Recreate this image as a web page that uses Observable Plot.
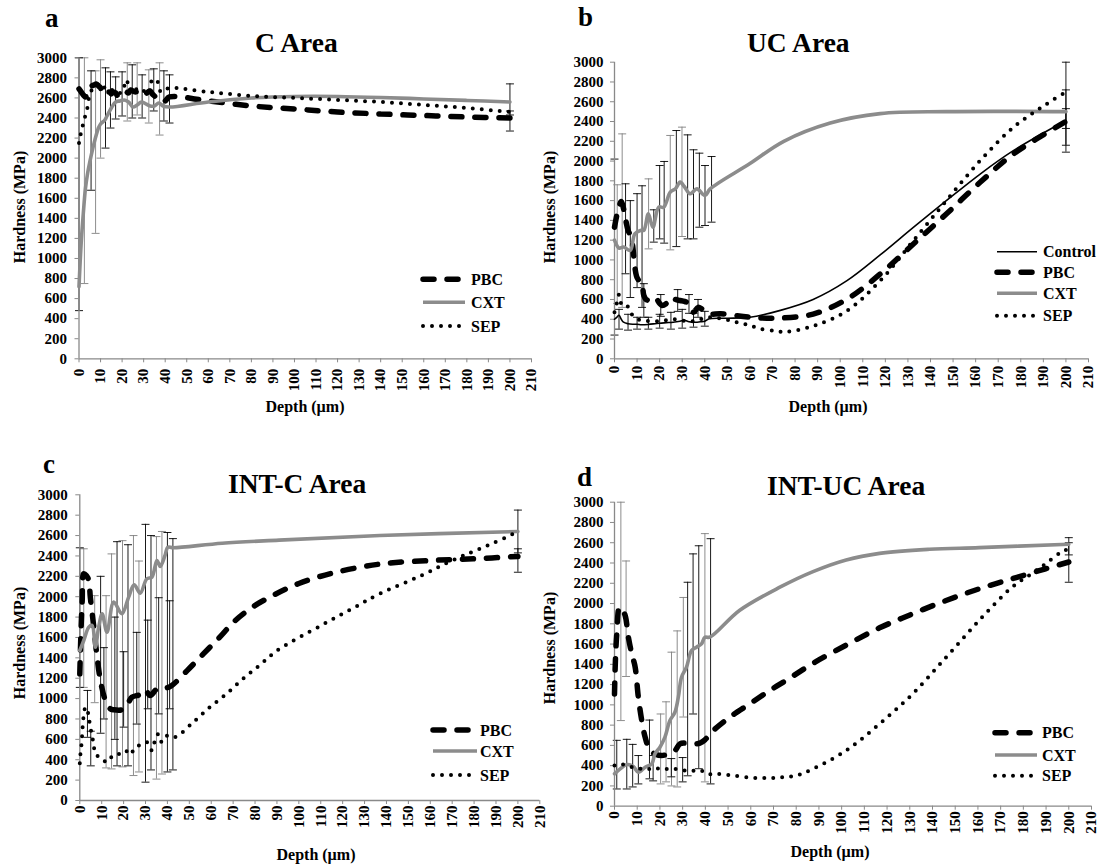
<!DOCTYPE html>
<html><head><meta charset="utf-8">
<script src="https://cdn.jsdelivr.net/npm/d3@7"></script>
<script src="https://cdn.jsdelivr.net/npm/@observablehq/plot@0.6"></script>
<style>
body{margin:0;background:#fff;}
#root{position:relative;width:1106px;height:864px;overflow:hidden;background:#fff;font-family:"Liberation Serif","DejaVu Serif","Times New Roman",serif;}
.panel{position:absolute;}
#overlay{position:absolute;left:0;top:0;pointer-events:none;}
svg text{font-family:"Liberation Serif","DejaVu Serif","Times New Roman",serif !important;}
</style></head>
<body><div id="root"></div>
<script>
// ---------- tick labels ----------
const depthTicks = [0,10,20,30,40,50,60,70,80,90,100,110,120,130,140,150,160,170,180,190,200,210];
const hardTicks = [0,200,400,600,800,1000,1200,1400,1600,1800,2000,2200,2400,2600,2800,3000];

// ---------- panel a : C Area ----------
const aPBC = [[0,2690],[1,2660],[2,2630],[3,2610],[4,2620],[5,2680],[6,2720],[7,2730],[8,2740],[9,2720],[10,2700],[11,2650],[12,2630],[13,2650],[14,2660],[15,2640],[16,2660],[17,2650],[18,2620],[19,2650],[20,2660],[21,2670],[22,2660],[23,2650],[24,2680],[25,2670],[26,2660],[27,2660],[28,2640],[29,2660],[30,2650],[31,2640],[32,2660],[33,2670],[34,2640],[35,2620],[36,2600],[37,2590],[38,2580],[39,2560],[40,2570],[42,2610],[60,2570],[80,2520],[100,2490],[120,2460],[140,2440],[160,2425],[180,2410],[200,2400]];
const aCXT = [[0,720],[1,1150],[2,1450],[3,1700],[4,1850],[5,1960],[6,2060],[7,2150],[8,2230],[9,2300],[10,2340],[12,2380],[13,2420],[15,2500],[17,2560],[19,2570],[21,2580],[23,2560],[25,2510],[27,2530],[29,2560],[31,2540],[33,2520],[35,2520],[37,2550],[39,2520],[42,2510],[60,2560],[80,2600],[100,2615],[120,2615],[140,2605],[160,2590],[180,2575],[200,2560]];
const aSEP = [[0,2150],[0.8,2240],[1.8,2330],[2.9,2420],[4,2510],[4.8,2620],[6,2680],[8,2720],[10,2750],[12,2700],[14,2670],[16,2680],[18,2650],[20,2660],[22,2780],[24,2650],[26,2680],[28,2700],[30,2670],[32,2640],[34,2780],[36,2780],[38,2660],[40,2680],[42,2700],[60,2660],[80,2620],[100,2600],[120,2580],[140,2560],[160,2530],[180,2500],[200,2460]];
const aErr = [[0,480,3000,"k"],[2.5,750,3000,"g"],[5.6,1680,2870,"k"],[7.7,1250,2870,"g"],[10,2000,2980,"g"],[12.3,2100,2900,"k"],[14.6,2300,2860,"k"],[17,2390,2810,"k"],[20,2420,2860,"k"],[22.4,2370,2950,"g"],[24.7,2400,2930,"k"],[27,2430,2950,"g"],[29.3,2400,2830,"k"],[32.4,2350,2880,"g"],[34.7,2470,2890,"k"],[37.4,2230,2950,"g"],[39.4,2370,2870,"k"],[42,2350,2830,"k"],[200,2270,2470,"k"],[200,2430,2740,"k"]];

// ---------- panel b : UC Area ----------
const bControl = [[0,400],[1,420],[2,440],[3,400],[4,370],[6,355],[8,350],[10,350],[12,345],[15,348],[18,355],[20,360],[23,365],[26,370],[29,380],[31,390],[33,375],[36,370],[38,375],[40,380],[42,405],[50,410],[60,420],[73.5,490],[88,600],[103,790],[117.7,1050],[132.4,1329],[147,1599],[162,1869],[176.7,2105],[200,2410]];
const bPBC = [[0,1330],[1,1450],[2,1540],[3,1590],[4,1520],[5,1400],[6,1300],[7,1250],[8,1150],[9,930],[10,820],[11,790],[12,780],[13,640],[14,600],[16,590],[18,620],[20,560],[21,540],[23,560],[25,620],[27,600],[29,590],[31,580],[33,560],[35,470],[37,520],[39,500],[42,455],[47,455],[60,421],[72,411],[88,452],[103,604],[117.7,857],[132.4,1161],[147,1465],[162,1785],[176.7,2072],[200,2400]];
const bCXT = [[0,1200],[2,1120],[4,1130],[7,1096],[9,1264],[11.5,1298],[13,1300],[15,1466],[17,1331],[19.6,1534],[21.8,1534],[24.7,1686],[27,1720],[29.1,1787],[31,1740],[33.5,1669],[36.5,1719],[40.1,1652],[42.4,1719],[60,1975],[75,2200],[95.6,2385],[117.7,2480],[147,2500],[200,2500]];
const bSEP = [[0,470],[1,560],[2,650],[3,560],[5,560],[7,470],[10,400],[13,390],[16,380],[20,380],[23,390],[26,400],[29,390],[32,380],[35,380],[38,400],[42,420],[51,388],[55.6,361],[60,337],[64.4,303],[71.8,280],[76,272],[88.3,334],[103,486],[117.7,789],[132.4,1194],[147,1599],[162,2004],[176.7,2341],[191.5,2578],[200,2700]];
const bErr = [[0,240,2020,"k"],[1.2,560,1760,"g"],[3.4,520,2275,"g"],[4.9,860,1770,"k"],[7,620,1600,"k"],[10,720,1670,"k"],[12.2,520,1750,"k"],[15.1,1112,1820,"g"],[17.4,1180,1507,"k"],[20,1213,1955,"k"],[22,1170,1996,"k"],[24.7,1102,2259,"g"],[27.4,1135,2309,"k"],[29.9,1237,2343,"g"],[32.4,1213,2265,"k"],[35,1213,2114,"k"],[37.6,1331,2080,"k"],[40.1,1348,1955,"k"],[43,1382,2046,"k"],[2,300,500,"k"],[6,290,450,"k"],[10,300,420,"k"],[15,300,420,"k"],[20,310,450,"k"],[25,300,470,"k"],[30,310,500,"k"],[35,320,460,"k"],[40,330,480,"k"],[13,420,760,"k"],[20.5,430,650,"k"],[28,480,700,"k"],[33,460,650,"k"],[37,420,600,"k"],[200,2090,2720,"k"],[200,2330,3000,"k"],[200,2160,2530,"k"]];

// ---------- panel c : INT-C Area ----------
const cPBC = [[0,1243],[0.6,1700],[1.1,1963],[1.8,2225],[3,2208],[4.1,2159],[4.8,1996],[6.4,1701],[7.9,1407],[9.4,1178],[11.7,981],[13.9,900],[15.5,890],[19.2,890],[21.5,932],[23.8,1014],[27.6,1040],[29.8,1086],[32.1,1031],[35.2,1096],[37.4,1112],[39.7,1106],[42,1129],[49,1275],[56.4,1439],[63.9,1603],[70.4,1755],[79,1900],[88,2010],[100,2130],[116,2235],[137,2320],[160,2355],[180,2372],[200,2395]];
const cCXT = [[0,1472],[1.8,1570],[4.1,1701],[5.6,1718],[7.1,1505],[8.6,1701],[10.2,1832],[12.4,1652],[15.5,1947],[19.2,1832],[22.3,1996],[24.8,2117],[27.6,2035],[30.6,2176],[32.9,2192],[35.2,2355],[36.7,2297],[38.9,2405],[40.2,2486],[42.7,2480],[65,2525],[91,2555],[137,2600],[200,2640]];
const cSEP = [[0,366],[0.3,458],[0.8,556],[1.1,654],[1.4,752],[1.8,834],[2.6,916],[3.3,900],[4.1,818],[4.8,720],[5.6,638],[6.4,540],[7.1,451],[9.4,425],[12.4,376],[15.5,451],[18.5,458],[20.8,491],[23,451],[25.3,523],[28.3,550],[30.6,573],[32.9,491],[34.4,595],[35.9,654],[37.4,573],[40,638],[43.5,622],[51.8,769],[59.4,916],[67,1047],[74.5,1194],[82,1325],[90,1470],[110,1716],[125,1890],[137,2030],[155.7,2206],[168,2336],[178.5,2434],[187.7,2516],[197.6,2614],[200,2650]];
const cErr = [[0,1110,2480,"k"],[1.8,1110,2470,"g"],[3.5,620,1080,"k"],[5,340,680,"k"],[6.8,960,2010,"g"],[9.5,660,2200,"k"],[12,320,2010,"g"],[14.5,310,2420,"g"],[17,340,2540,"k"],[19.5,330,2550,"g"],[22,340,2510,"k"],[24.5,245,2600,"g"],[27,280,2350,"g"],[30,180,2710,"k"],[32.5,300,2600,"k"],[35,210,2590,"g"],[37.5,260,2640,"g"],[40,280,2630,"k"],[42.5,300,2570,"k"],[11,800,1500,"k"],[16,600,1800,"k"],[20,720,1460,"k"],[26,750,1650,"k"],[31,900,1770,"k"],[36,850,1990,"k"],[41,900,1960,"k"],[200,2240,2850,"k"],[200,2430,2470,"k"]];

// ---------- panel d : INT-UC Area ----------
const dPBC = [[0,1108],[0.4,1437],[1,1700],[2.2,1964],[3.2,1947],[4.7,1881],[6.1,1668],[7.6,1503],[9.1,1372],[10.5,1075],[12,845],[13.5,681],[15.6,549],[17.8,516],[20.8,500],[23.7,516],[26.6,549],[28.8,615],[31.7,622],[34.6,615],[37.6,622],[39.8,655],[42.7,730],[50.7,878],[59.5,1010],[68.3,1141],[77.2,1265],[87.4,1410],[102,1590],[116.7,1760],[131.3,1899],[146,2030],[160.5,2145],[175,2244],[189.8,2343],[200,2410]];
const dCXT = [[0,319],[2.5,368],[5.4,411],[8.3,391],[10.5,335],[13.5,385],[16.4,418],[17.8,516],[20,582],[22.2,681],[24.4,845],[26.6,927],[28.1,1075],[29.5,1273],[31.7,1372],[33.9,1536],[36.1,1569],[38.3,1602],[39.8,1668],[42,1668],[55,1931],[72.8,2161],[87.4,2315],[102,2430],[116.7,2495],[138.6,2535],[160.5,2552],[200,2585]];
const dSEP = [[0,401],[1.8,418],[4,411],[6.9,391],[10.5,368],[13.5,378],[17,358],[20,378],[23,368],[25.9,368],[29.5,358],[33.2,345],[37.6,358],[40.5,319],[44.9,319],[52,303],[61,280],[68,278],[74,286],[80,303],[87.4,369],[102,550],[116.7,813],[131.3,1109],[146,1470],[160.5,1832],[175,2161],[183.6,2293],[189.8,2392],[196.6,2506],[200,2540]];
const dErr = [[2.8,845,3000,"g"],[5.1,1280,2420,"g"],[1,170,650,"k"],[5.4,170,660,"k"],[8,190,610,"k"],[10.5,220,500,"k"],[15.4,270,850,"k"],[20.3,220,910,"g"],[22.7,240,1030,"g"],[25.1,200,1520,"g"],[27.6,190,1730,"g"],[30.3,880,2060,"g"],[32.2,300,2210,"k"],[34.6,910,2490,"k"],[37.1,370,2570,"k"],[39.8,240,2690,"g"],[42.3,220,2640,"k"],[17,250,500,"k"],[25,290,470,"k"],[30,240,480,"k"],[200,2210,2650,"k"],[200,2480,2600,"k"]];

// ---------- styles ----------
const FONT = "'Liberation Serif','DejaVu Serif','Times New Roman',serif";
const seriesStyle = {
  Control: {stroke:"#000", strokeWidth:1.6},
  PBC: {stroke:"#000", strokeWidth:5.5, strokeDasharray:"11,13", strokeLinecap:"round"},
  CXT: {stroke:"#8c8c8c", strokeWidth:3.6},
  SEP: {stroke:"#000", strokeWidth:4, strokeDasharray:"0,9", strokeLinecap:"round"}
};
const capSymbol = {draw(ctx, size){const r = Math.sqrt(size/Math.PI); ctx.moveTo(-r,0); ctx.lineTo(r,0);}};
const axisGray = "#898989";

function errMarks(err){
  const out = [];
  for (const [key, color] of [["g","#808080"],["k","#000"]]) {
    const sub = err.filter(e => e[3] === key);
    const o = {stroke: color, strokeWidth: 0.9};
    out.push(Plot.ruleX(sub, {x: e => e[0], y1: e => e[1], y2: e => e[2], ...o}));
    out.push(Plot.dot(sub, {x: e => e[0], y: e => e[1], symbol: capSymbol, r: 4, fill: "none", ...o}));
    out.push(Plot.dot(sub, {x: e => e[0], y: e => e[2], symbol: capSymbol, r: 4, fill: "none", ...o}));
  }
  return out;
}

const panels = [
  {left:0, top:0, w:553, h:432, mL:78.5, mR:22, mT:57.3, mB:73.7, yPad:8, xPad:6, err:aErr,
   series:[["PBC",aPBC],["CXT",aCXT],["SEP",aSEP]]},
  {left:553, top:0, w:553, h:432, mL:61, mR:18, mT:61.7, mB:73.7, yPad:7, xPad:3, err:bErr,
   series:[["PBC",bPBC],["CXT",bCXT],["SEP",bSEP],["Control",bControl]]},
  {left:0, top:432, w:553, h:432, mL:79.3, mR:13.7, mT:62.3, mB:64, yPad:8, xPad:1, err:cErr,
   series:[["PBC",cPBC],["CXT",cCXT],["SEP",cSEP]]},
  {left:553, top:432, w:553, h:432, mL:61, mR:15, mT:69.7, mB:58.3, yPad:7, xPad:1, err:dErr,
   series:[["PBC",dPBC],["CXT",dCXT],["SEP",dSEP]]}
];

const root = document.getElementById("root");
for (const p of panels) {
  const marks = [
    ...errMarks(p.err),
    Plot.ruleX([0], {stroke: axisGray, strokeWidth: 1.3}),
    Plot.ruleY([0], {stroke: axisGray, strokeWidth: 1.3}),
    Plot.axisY({ticks: hardTicks, tickFormat: "d", tickSize: 4, tickPadding: p.yPad, stroke: axisGray, fill: "#000", label: null, fontSize: 15, fontWeight: "bold"}),
    Plot.axisX({ticks: depthTicks, tickFormat: "d", tickSize: 4, tickPadding: p.xPad, tickRotate: -90, stroke: axisGray, fill: "#000", label: null, fontSize: 15, fontWeight: "bold"})
  ];
  for (const [name, data] of p.series) {
    marks.push(Plot.line(data, {x: d => d[0], y: d => d[1], curve: "catmull-rom", ...seriesStyle[name]}));
  }
  const svg = Plot.plot({
    width: p.w, height: p.h,
    marginLeft: p.mL, marginRight: p.mR, marginTop: p.mT, marginBottom: p.mB,
    x: {domain: [0, 210]},
    y: {domain: [0, 3000]},
    style: {fontFamily: FONT, fontSize: "15px", fontWeight: "bold", color: "#000", background: "transparent", overflow: "visible"},
    marks
  });
  const div = document.createElement("div");
  div.className = "panel";
  div.style.left = p.left + "px";
  div.style.top = p.top + "px";
  div.appendChild(svg);
  root.appendChild(div);
}

// ---------- overlay: titles, letters, axis titles, legends ----------
const titles = [["C Area",255,52],["UC Area",747,52],["INT-C Area",228,493],["INT-UC Area",767,495]];
const letters = [["a",45,27],["b",578,26],["c",43,473],["d",577,486]];
const yTitles = [[19,207],[549,207],[19,643],[549,648]];
const xTitles = [[305,412],[828,412],[316,860],[830,857]];
const legends = [
  {x:423, x2:465, tx:471, rows:[["PBC",279.3],["CXT",302.3],["SEP",326]]},
  {x:997, x2:1037, tx:1043, rows:[["Control",251.7],["PBC",272.3],["CXT",293.3],["SEP",315.7]]},
  {x:433, x2:477, tx:480, rows:[["PBC",730],["CXT",751],["SEP",775]]},
  {x:995, x2:1037, tx:1042, rows:[["PBC",732.7],["CXT",755],["SEP",775.7]]}
];

const ov = d3.select(root).append("svg").attr("id","overlay").attr("width",1106).attr("height",864)
  .attr("font-family", FONT).attr("font-weight","bold");
for (const [t,x,y] of titles) ov.append("text").attr("x",x).attr("y",y).attr("font-size",27.5).text(t);
for (const [t,x,y] of letters) ov.append("text").attr("x",x).attr("y",y).attr("font-size",27).text(t);
for (const [x,y] of yTitles) ov.append("text").attr("transform",`translate(${x},${y}) rotate(-90)`)
  .attr("text-anchor","middle").attr("dominant-baseline","central").attr("font-size",16).text("Hardness (MPa)");
for (const [x,y] of xTitles) ov.append("text").attr("x",x).attr("y",y).attr("text-anchor","middle").attr("font-size",16).text("Depth (\u00b5m)");
for (const L of legends) {
  for (const [name, y] of L.rows) {
    const s = seriesStyle[name];
    ov.append("line").attr("x1",L.x).attr("x2",L.x2).attr("y1",y).attr("y2",y)
      .attr("stroke",s.stroke).attr("stroke-width",s.strokeWidth)
      .attr("stroke-dasharray",s.strokeDasharray || null).attr("stroke-linecap",s.strokeLinecap || null);
    ov.append("text").attr("x",L.tx).attr("y",y).attr("dominant-baseline","central").attr("font-size",16).text(name);
  }
}
</script>
</body></html>
